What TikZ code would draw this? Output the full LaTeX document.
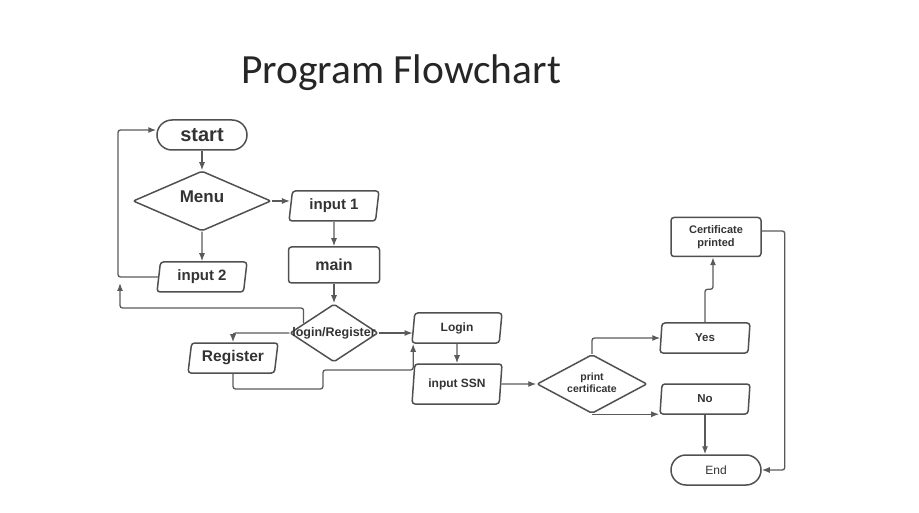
\documentclass[tikz,border=0pt]{standalone}
\usepackage{fontspec}
\setmainfont{Liberation Sans}
\newfontfamily\titlefont{Carlito}
\usetikzlibrary{positioning,shapes.geometric,arrows.meta,calc}

\definecolor{edgegray}{HTML}{5A5A5A}
\definecolor{boxgray}{HTML}{505050}
\definecolor{txtgray}{HTML}{333333}

\newcommand{\dtext}[1]{\makebox[0pt]{\begin{tabular}{@{}c@{}}#1\end{tabular}}}

\tikzset{
    base/.style={draw=boxgray, line width=1.5pt, text=txtgray, font=\bfseries, inner sep=0pt},
    terminal/.style={base, rectangle, rounded corners=15pt, minimum width=90pt, minimum height=30pt},
    process/.style={base, rectangle, rounded corners=3pt, minimum width=91pt, minimum height=36pt},
    io/.style={base, trapezium, trapezium left angle=76, trapezium right angle=104,
        trapezium stretches body, rounded corners=3pt, minimum width=90pt, minimum height=30pt},
    decide/.style={base, diamond, rounded corners=2pt},
    flow/.style={draw=edgegray, line width=1.3pt, rounded corners=2.5pt,
        -{Latex[length=8pt,width=6pt]}}
}

\begin{document}
\begin{tikzpicture}[x=1pt,y=-1pt]
    \useasboundingbox (0,0) rectangle (919,513);

    % title
    \node[font=\titlefont\fontsize{41.5}{46}\selectfont, text=black!85] (title) at (401,73) {Program Flowchart};

    % left column
    \node[terminal, font=\bfseries\fontsize{20}{24}\selectfont] (start) at (202,135) {start};
    \node[decide, minimum width=138pt, minimum height=60pt,
          font=\bfseries\fontsize{17}{20}\selectfont] (menu) at (202,201) {\dtext{\raisebox{3pt}{Menu}}};
    \node[io, font=\bfseries\fontsize{15}{18}\selectfont] (in1) at (334,206) {input 1};
    \node[io, font=\bfseries\fontsize{15}{18}\selectfont] (in2) at (202,277) {input 2};
    \node[process, font=\bfseries\fontsize{16}{19}\selectfont] (main) at (334,265) {main};

    % login / register
    \node[decide, minimum width=88pt, minimum height=58pt,
          font=\bfseries\fontsize{12.5}{15}\selectfont] (lr) at (334,333) {\dtext{login/Register}};
    \node[io, font=\bfseries\fontsize{15.5}{18}\selectfont] (reg) at (233,358) {Register};
    \node[io, font=\bfseries\fontsize{12}{14}\selectfont] (login) at (457,328) {Login};
    \node[io, minimum height=40pt, font=\bfseries\fontsize{12}{14}\selectfont] (ssn) at (457,384) {input SSN};

    % certificate
    \node[decide, minimum width=110pt, minimum height=59pt,
          font=\bfseries\fontsize{10.5}{12.5}\selectfont] (pc) at (592,384) {\dtext{print\\certificate}};
    \node[io, font=\bfseries\fontsize{11.5}{14}\selectfont] (yes) at (705,338) {Yes};
    \node[io, font=\bfseries\fontsize{11.5}{14}\selectfont] (no) at (705,399) {No};
    \node[process, minimum width=90pt, minimum height=39pt, align=center,
          font=\bfseries\fontsize{11}{13.5}\selectfont] (cert) at (716,237) {Certificate\\printed};
    \node[terminal, font=\fontsize{12}{14}\selectfont] (end) at (716,470) {End};

    \coordinate (back) at (120,283);

    % connectors
    \draw[flow] (start) -- (menu);
    \draw[flow] (menu.east) -- (menu.east -| in1.west);
    \draw[flow] (menu.south) -- (in2.north);
    \draw[flow] (in2.west) -- ++(-40,0) |- ([yshift=5pt]start.west);
    \draw[flow] (in1.south) -- (main.north);
    \draw[flow] (main.south) -- (lr.north);
    \draw[flow] ($(lr.north)!0.68!(lr.west)$) |- ([yshift=-25pt]back) -- (back);
    \draw[flow] (lr.west) -| (reg.north);
    \draw[flow] (lr.east) -- (lr.east -| login.west);
    \draw[flow] (reg.south) |- (323,389) -- (323,370) -| ([xshift=2pt]login.bottom left corner);
    \draw[flow] (login.south) -- (ssn.north);
    \draw[flow] (ssn.east) -- (pc.west);
    \draw[flow] (pc.north) |- (yes.west);
    \draw[flow] (pc.south) -- (pc.south -| no.bottom left corner);
    \draw[flow] (yes.north) -- ++(0,-33) -| ([xshift=-3pt]cert.south);
    \draw[flow] (no.south) -- (no.south |- end.north);
    \draw[flow] ([yshift=6pt]cert.east) -- ++(23,0) |- (end.east);
\end{tikzpicture}
\end{document}
